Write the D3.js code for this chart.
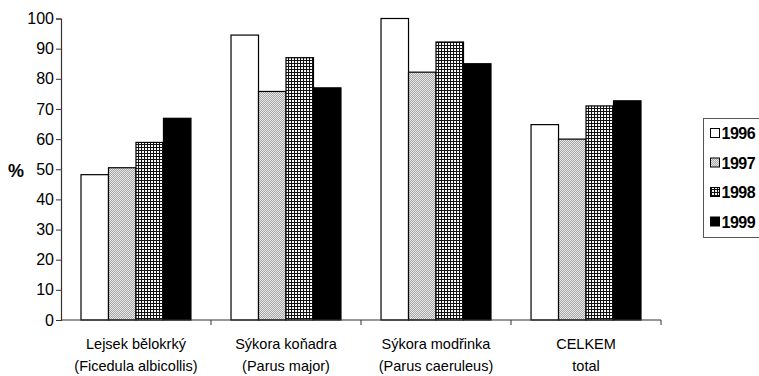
<!DOCTYPE html>
<html><head><meta charset="utf-8">
<script src="https://cdn.jsdelivr.net/npm/d3@7"></script>
<style>body{margin:0;background:#fff;overflow:hidden}svg{display:block}</style>
</head><body>
<script>
const categories = [["Lejsek bělokrký","(Ficedula albicollis)"],["Sýkora koňadra","(Parus major)"],["Sýkora modřinka","(Parus caeruleus)"],["CELKEM","total"]];
const years = ["1996","1997","1998","1999"];
const v1996 = [48.2, 94.5, 100, 64.8];
const v1997 = [50.5, 75.8, 82.2, 60];
const v1998 = [58.9, 87, 92.2, 71];
const v1999 = [66.9, 77, 85, 72.7];
const yTicks = [0,10,20,30,40,50,60,70,80,90,100];
const series = [v1996, v1997, v1998, v1999];

const W = 759, H = 376;
const svg = d3.select("body").append("svg").attr("width", W).attr("height", H);
const defs = svg.append("defs");
// fine diagonal light hatch
const p1 = defs.append("pattern").attr("id","hatch").attr("patternUnits","userSpaceOnUse").attr("width",2).attr("height",2);
p1.append("rect").attr("width",2).attr("height",2).attr("fill","#e8e8e8");
p1.append("path").attr("d","M0,2 L2,0 M-1,1 L1,-1 M1,3 L3,1").attr("stroke","#8a8a8a").attr("stroke-width",0.7);
// grid crosshatch
const p2 = defs.append("pattern").attr("id","grid").attr("patternUnits","userSpaceOnUse").attr("width",3).attr("height",3);
p2.append("rect").attr("width",3).attr("height",3).attr("fill","#fff");
p2.append("path").attr("d","M0,0.5 H3 M0.5,0 V3").attr("stroke","#111").attr("stroke-width",1.1);
const fills = ["#fff","url(#hatch)","url(#grid)","#000"];

const x0 = d3.scaleBand().domain(d3.range(categories.length)).range([61,661]).paddingInner(0.267).paddingOuter(0.1333);
const x1 = d3.scaleBand().domain(d3.range(years.length)).range([0, x0.bandwidth()]);
const y = d3.scaleLinear().domain([0,100]).range([320,18.5]);

const g = svg.append("g");
categories.forEach((c,i)=>{
  series.forEach((s,j)=>{
    g.append("rect").attr("x", x0(i)+x1(j)).attr("y", y(s[i]))
     .attr("width", x1.bandwidth()).attr("height", y(0)-y(s[i]))
     .attr("fill", fills[j]).attr("stroke","#000").attr("stroke-width",1.2);
  });
});

// y axis
const yAxis = svg.append("g").attr("transform","translate(61,0)")
  .call(d3.axisLeft(y).tickValues(yTicks).tickSize(5).tickPadding(2));
yAxis.select(".domain").attr("stroke","#333").attr("stroke-width",1.2);
yAxis.selectAll(".tick line").attr("stroke","#333");
yAxis.selectAll("text").attr("font-family","Liberation Sans, Arial, sans-serif").attr("font-size",16).attr("fill","#000");

// x axis
const xa = svg.append("g");
xa.append("line").attr("x1",61).attr("x2",661).attr("y1",320).attr("y2",320).attr("stroke","#333").attr("stroke-width",1.2);
const bounds = categories.map((c,i)=>x0(i)+x0.bandwidth()+x0.step()*x0.paddingInner()/2);
xa.selectAll("line.t").data(bounds).enter().append("line").attr("class","t")
  .attr("x1",d=>d).attr("x2",d=>d).attr("y1",320).attr("y2",325).attr("stroke","#333");
categories.forEach((c,i)=>{
  const cx = x0(i)+x0.bandwidth()/2;
  c.forEach((line,k)=>{
    xa.append("text").attr("x",cx).attr("y",349+k*22).attr("text-anchor","middle")
      .attr("font-family","Liberation Sans, Arial, sans-serif").attr("font-size",14.5).attr("fill","#000").text(line);
  });
});

svg.append("text").attr("x",8).attr("y",177).attr("font-family","Liberation Sans, Arial, sans-serif")
  .attr("font-weight","bold").attr("font-size",18).text("%");

// legend
const lg = svg.append("g");
lg.append("rect").attr("x",703.5).attr("y",118.5).attr("width",70).attr("height",119).attr("fill","#fff").attr("stroke","#555");
years.forEach((yr,j)=>{
  const cy = 133 + j*29.5;
  lg.append("rect").attr("x",710.5).attr("y",cy-4.5).attr("width",9).attr("height",9).attr("fill",fills[j]).attr("stroke","#000");
  lg.append("text").attr("x",721.5).attr("y",cy+6).attr("font-family","Liberation Sans, Arial, sans-serif")
    .attr("font-weight","bold").attr("font-size",16).attr("letter-spacing",-0.5).text(yr);
});
</script>
</body></html>
